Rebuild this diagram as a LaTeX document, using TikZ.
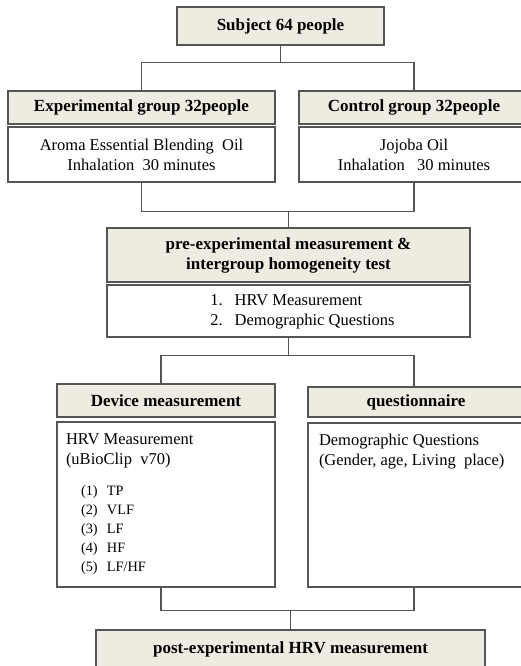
\documentclass[tikz,border=0pt]{standalone}
\usepackage{fontspec}
\setmainfont{Liberation Serif}
\definecolor{linegray}{HTML}{555555}
\definecolor{headfill}{HTML}{EEEBE0}
\begin{document}
\begin{tikzpicture}[x=1pt, y=-1pt,
  head/.style = {draw=linegray, fill=headfill, line width=1.2pt, inner sep=0pt, align=center, font=\fontsize{17}{20}\selectfont\bfseries},
  body/.style = {draw=linegray, fill=white, line width=1.2pt, inner sep=0pt, font=\fontsize{16.5}{20}\selectfont},
  link/.style = {draw=linegray, line width=1.2pt}]
\useasboundingbox (0,0) rectangle (521,666);
\node[head, minimum width=207pt, minimum height=38pt] (subj) at (280.5,26) {Subject 64 people};
\node[head, minimum width=267pt, minimum height=33pt] (exph) at (141.5,107.5) {Experimental group 32people};
\node[body, align=center, minimum width=267pt, minimum height=55pt] (expb) at (141.5,154.5) {Aroma Essential Blending\ \ Oil\\Inhalation\ \ 30 minutes};
\node[head, minimum width=230pt, minimum height=33pt] (ctlh) at (414,107.5) {Control group 32people};
\node[body, align=center, minimum width=230pt, minimum height=55pt] (ctlb) at (414,154.5) {Jojoba Oil\\Inhalation\ \ \ 30 minutes};
\node[head, minimum width=363pt, minimum height=54pt] (preh) at (288.5,255) {pre-experimental measurement \&\\intergroup homogeneity test};
\node[body, minimum width=363pt, minimum height=52pt] (preb) at (288.5,311) {\hspace*{28pt}\begin{tabular}{@{}l@{\hspace{12pt}}l@{}}1.&HRV Measurement\\2.&Demographic Questions\end{tabular}};
\node[head, minimum width=218pt, minimum height=33pt] (devh) at (166,400.5) {Device measurement};
\node[body] (devb) at (166,504.5) {\begin{minipage}[c][165pt][t]{218pt}\raggedright\leftskip=9pt
  \vspace*{12pt}HRV Measurement\\
  (uBioClip\ \ v70)\par
  \vspace{11pt}
  {\fontsize{14.3}{19.2}\selectfont\leftskip=24pt
  \makebox[26pt][l]{(1)}TP\\
  \makebox[26pt][l]{(2)}VLF\\
  \makebox[26pt][l]{(3)}LF\\
  \makebox[26pt][l]{(4)}HF\\
  \makebox[26pt][l]{(5)}LF/HF\par}
\end{minipage}};
\node[head, minimum width=216pt, minimum height=30pt] (queh) at (416,402) {questionnaire};
\node[body] (queb) at (416,505) {\begin{minipage}[c][164pt][t]{216pt}\raggedright\leftskip=11pt
  \vspace*{11pt}Demographic Questions\\
  (Gender, age, Living\ \ place)\par
\end{minipage}};
\node[head, minimum width=389pt, minimum height=38pt] (post) at (290.5,649) {post-experimental HRV measurement};
\draw[link] (subj.south) -- ++(0,17) -| (exph.north);
\draw[link] (subj.south) -- ++(0,17) -| (ctlh.north);
\draw[link] (expb.south) -- ++(0,29) -| (preh.north);
\draw[link] (ctlb.south) -- ++(0,29) -| (preh.north);
\draw[link] (preb.south) -- ++(0,18) -| ([xshift=-5pt]devh.north);
\draw[link] (preb.south) -- ++(0,18) -| ([xshift=-2pt]queh.north);
\draw[link] ([xshift=-5pt]devb.south) -- ++(0,23) -| (post.north);
\draw[link] ([xshift=-2pt]queb.south) -- ++(0,23) -| (post.north);
\end{tikzpicture}
\end{document}
